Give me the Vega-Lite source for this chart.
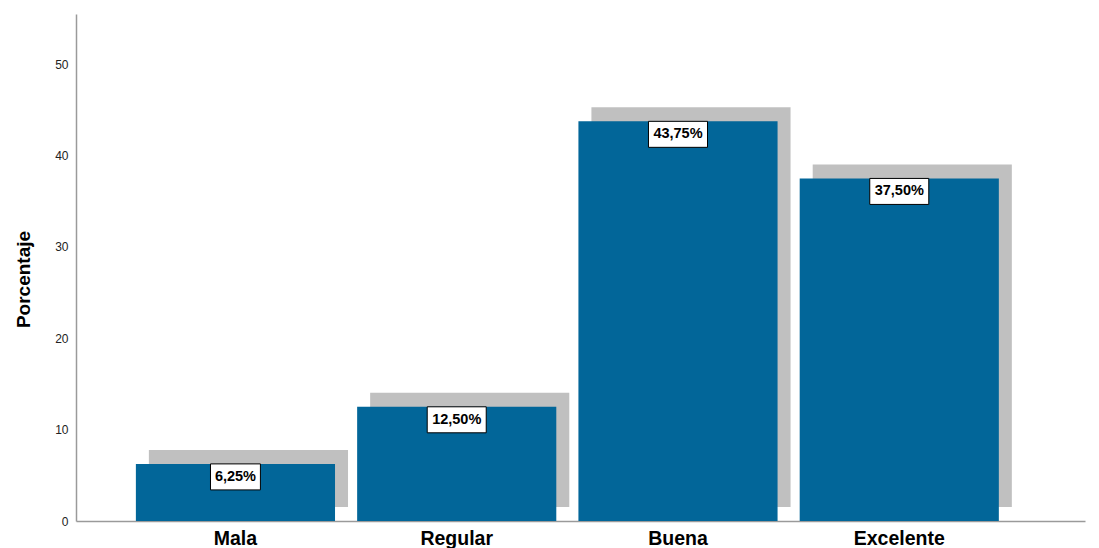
{
  "$schema": "https://vega.github.io/schema/vega-lite/v6.json",
  "autosize": "none",
  "width": 1009,
  "height": 507,
  "padding": {"left": 76, "top": 14, "right": 14, "bottom": 27},
  "background": "white",
  "config": {
    "view": {"stroke": null},
    "font": "Liberation Sans"
  },
  "data": {
    "values": [
      {"categoria": "Mala", "porcentaje": 6.25, "etiqueta": "6,25%"},
      {"categoria": "Regular", "porcentaje": 12.5, "etiqueta": "12,50%"},
      {"categoria": "Buena", "porcentaje": 43.75, "etiqueta": "43,75%"},
      {"categoria": "Excelente", "porcentaje": 37.5, "etiqueta": "37,50%"}
    ]
  },
  "encoding": {
    "x": {
      "field": "categoria",
      "type": "nominal",
      "sort": ["Mala", "Regular", "Buena", "Excelente"],
      "scale": {"paddingInner": 0.1, "paddingOuter": 0.33, "align": 0.41},
      "axis": {
        "title": null,
        "labelAngle": 0,
        "labelFont": "Liberation Sans",
        "labelFontWeight": "bold",
        "labelFontSize": 19.5,
        "labelColor": "#000000",
        "labelPadding": 8,
        "ticks": false,
        "domainColor": "#9a9a9a",
        "domainWidth": 1.5
      }
    },
    "y": {
      "field": "porcentaje",
      "type": "quantitative",
      "scale": {"domain": [0, 55.5], "nice": false},
      "axis": {
        "title": "Porcentaje",
        "titleFont": "Liberation Sans",
        "titleFontSize": 19,
        "titleFontWeight": "bold",
        "titleColor": "#000000",
        "titleAngle": 270,
        "titleX": -53,
        "titleY": 265,
        "titleAlign": "center",
        "titleBaseline": "middle",
        "values": [0, 10, 20, 30, 40, 50],
        "labelFontSize": 12,
        "labelColor": "#222222",
        "labelPadding": 8,
        "ticks": false,
        "grid": false,
        "domainColor": "#9a9a9a",
        "domainWidth": 1.5
      }
    }
  },
  "layer": [
    {
      "mark": {"type": "bar", "color": "#c0c0c0", "xOffset": 13, "yOffset": -14},
      "encoding": {}
    },
    {
      "mark": {"type": "bar", "color": "#026699"},
      "encoding": {}
    },
    {
      "mark": {
        "type": "point",
        "filled": true,
        "fill": "white",
        "stroke": "#000000",
        "strokeWidth": 1,
        "opacity": 1,
        "yOffset": 13,
        "size": 676
      },
      "encoding": {
        "shape": {
          "condition": {"test": "length(datum.etiqueta) < 6", "value": "M-1.92,-1L1.92,-1L1.92,1L-1.92,1Z"},
          "value": "M-2.27,-1L2.27,-1L2.27,1L-2.27,1Z"
        }
      }
    },
    {
      "mark": {
        "type": "text",
        "yOffset": 13,
        "baseline": "middle",
        "align": "center",
        "fontWeight": "bold",
        "fontSize": 14.5,
        "font": "Liberation Sans",
        "color": "#000000"
      },
      "encoding": {"text": {"field": "etiqueta"}}
    }
  ]
}
